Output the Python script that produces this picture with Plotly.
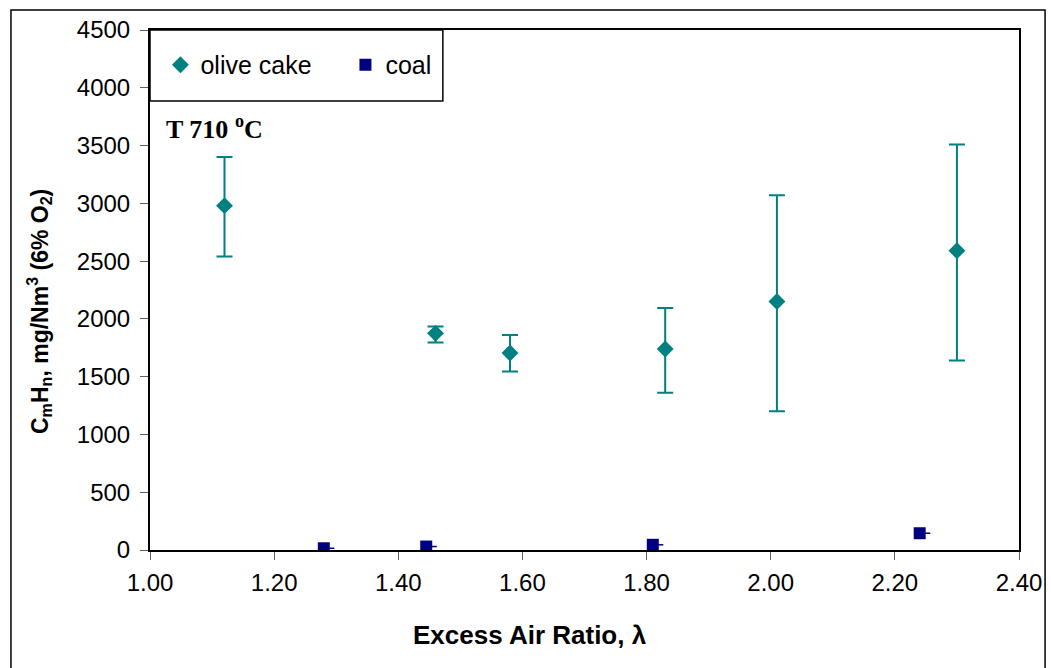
import plotly.graph_objects as go

# Olive cake data
olive_x = [1.12, 1.46, 1.58, 1.83, 2.01, 2.30]
olive_y = [2980, 1875, 1705, 1740, 2150, 2590]
olive_hi = [3400, 1935, 1860, 2095, 3070, 3510]
olive_lo = [2540, 1795, 1545, 1360, 1200, 1640]

# Coal data
coal_x = [1.28, 1.445, 1.81, 2.24]
coal_y = [15, 30, 45, 145]
coal_xerr = [0.017, 0.017, 0.017, 0.017]

x_ticks = [1.00, 1.20, 1.40, 1.60, 1.80, 2.00, 2.20, 2.40]
y_ticks = [0, 500, 1000, 1500, 2000, 2500, 3000, 3500, 4000, 4500]

teal = "#008080"
navy = "#000080"

fig = go.Figure()
fig.add_trace(go.Scatter(
    x=olive_x, y=olive_y, mode="markers", name="olive cake",
    marker=dict(symbol="diamond", size=13, color=teal),
    error_y=dict(type="data", symmetric=False,
                 array=[h - y for h, y in zip(olive_hi, olive_y)],
                 arrayminus=[y - l for l, y in zip(olive_lo, olive_y)],
                 color=teal, thickness=2, width=8),
))
fig.add_trace(go.Scatter(
    x=coal_x, y=coal_y, mode="markers", name="coal",
    marker=dict(symbol="square", size=12, color=navy),
    error_x=dict(type="data", symmetric=False, array=coal_xerr,
                 arrayminus=[0] * len(coal_x), color=navy, thickness=1.5, width=0),
))

fig.update_layout(
    width=1051, height=668,
    margin=dict(l=150, r=32, t=30, b=118, autoexpand=False),
    paper_bgcolor="white", plot_bgcolor="white",
    font=dict(family="Liberation Sans, Arial", color="black"),
    showlegend=True,
    legend=dict(orientation="h", x=0.012, y=0.977, xanchor="left", yanchor="top",
                bgcolor="rgba(0,0,0,0)", font=dict(size=25),
                itemwidth=30, tracegroupgap=0,
                entrywidth=140, entrywidthmode="pixels"),
    xaxis=dict(range=[1.0, 2.4], tickvals=x_ticks,
               ticktext=[f"{v:.2f}" for v in x_ticks], automargin=False,
               showgrid=False, zeroline=False, showline=True, linecolor="black",
               linewidth=2, mirror=True, ticks="outside", ticklen=8, tickcolor="#606060",
               tickfont=dict(size=24), ticklabelstandoff=2),
    yaxis=dict(range=[0, 4500], tickvals=y_ticks, automargin=False,
               showgrid=False, zeroline=False, showline=True, linecolor="black",
               linewidth=2, mirror=True, ticks="outside", ticklen=8, tickcolor="#606060",
               tickfont=dict(size=24), ticklabelstandoff=5),
    shapes=[
        dict(type="rect", xref="paper", yref="paper", x0=0, x1=0.337, y0=0.8635, y1=1,
             line=dict(color="black", width=1.5), fillcolor="white", layer="below"),
        dict(type="rect", xref="paper", yref="paper", x0=-0.16, x1=1.03, y0=-0.3, y1=1.0385,
             line=dict(color="black", width=1.5), fillcolor="rgba(0,0,0,0)"),
    ],
    annotations=[
        dict(text="<b>T 710 <sup>o</sup>C</b>", xref="paper", yref="paper",
             x=0.016, y=0.812, xanchor="left", yanchor="middle", showarrow=False,
             font=dict(family="Liberation Serif, Times New Roman", size=26)),
        dict(text="<b>Excess Air Ratio, λ</b>", xref="paper", yref="paper",
             x=(530 - 150) / 869, y=(550 - 635) / 520, xanchor="center", yanchor="middle",
             showarrow=False, font=dict(size=26)),
        dict(text="<b>C<sub>m</sub>H<sub>n</sub>, mg/Nm<sup>3</sup> (6% O<sub>2</sub>)</b>",
             xref="paper", yref="paper", x=(39 - 150) / 869, y=(550 - 311) / 520,
             xanchor="center", yanchor="middle", textangle=-90,
             showarrow=False, font=dict(size=23)),
    ],
)

fig.write_html("out.html")
